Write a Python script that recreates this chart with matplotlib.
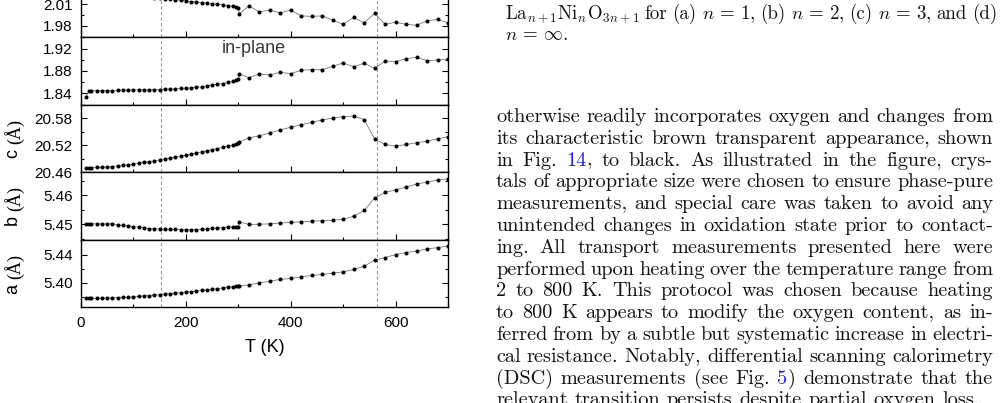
import re
import matplotlib
matplotlib.use("Agg")
import matplotlib.pyplot as plt
from matplotlib.ticker import FixedLocator, FormatStrFormatter

plt.rcParams['font.family'] = 'Liberation Sans'
plt.rcParams['mathtext.fontset'] = 'cm'

W, H = 1001, 403

# temperature grid (K)
T = [10, 15, 20, 30, 40, 50, 60, 70, 80, 90, 100, 110, 120, 130, 140, 150,
     160, 170, 180, 190, 200, 210, 220, 230, 240, 250, 260, 270, 280, 290,
     295, 300, 302, 320, 340, 360, 380, 400, 420, 440, 460, 480, 500, 520,
     540, 560, 580, 600, 620, 640, 660, 680, 700]

# top panel (cut off in the page)
top_vals = [2.031, 2.030, 2.030, 2.029, 2.028, 2.027, 2.026, 2.025, 2.024, 2.023,
            2.022, 2.021, 2.020, 2.020, 2.019, 2.019, 2.018, 2.017, 2.0165, 2.0158,
            2.0147, 2.0137, 2.0136, 2.0123, 2.0114, 2.0112, 2.0104, 2.0095, 2.008, 2.0076,
            2.0058, 2.0044, 1.9964, 2.008, 1.9996, 2.002, 1.9982, 2.002, 1.994, 1.9932,
            1.994, 1.988, 1.982, 1.9918, 1.9842, 1.9974, 1.982, 1.9852, 1.982, 1.981,
            1.987, 1.989, 1.9842]

inplane_vals = [1.834, 1.8447, 1.8447, 1.8448, 1.8449, 1.845, 1.845, 1.8452, 1.8455, 1.8458,
                1.8462, 1.846, 1.8462, 1.8465, 1.8463, 1.8468, 1.8472, 1.8475, 1.8475, 1.8487,
                1.849, 1.8495, 1.851, 1.8515, 1.853, 1.855, 1.856, 1.8575, 1.8595, 1.8615,
                1.8635, 1.865, 1.8746, 1.868, 1.8746, 1.8728, 1.8777, 1.8752, 1.8812, 1.8824,
                1.8824, 1.8884, 1.8943, 1.8877, 1.8938, 1.8848, 1.8979, 1.8967, 1.902, 1.9045,
                1.8985, 1.8997, 1.9015]

c_vals = [20.470, 20.470, 20.4701, 20.4703, 20.4708, 20.4715, 20.4724, 20.4735, 20.4748, 20.4763,
          20.4779, 20.4796, 20.4814, 20.4833, 20.4852, 20.4870, 20.4890, 20.4911, 20.4932, 20.4953,
          20.4975, 20.4998, 20.5022, 20.5046, 20.5071, 20.5096, 20.5122, 20.5148, 20.5176, 20.5205,
          20.5225, 20.5250, 20.5262, 20.536, 20.5404, 20.547, 20.5536, 20.5594, 20.5653, 20.5703,
          20.5756, 20.580, 20.5829, 20.5844, 20.5763, 20.5338, 20.5213, 20.5176, 20.5213, 20.525,
          20.5286, 20.5338, 20.5382]

b_vals = [5.4502, 5.4503, 5.4503, 5.4502, 5.4502, 5.4502, 5.4503, 5.4498, 5.4497, 5.4495,
          5.4493, 5.4491, 5.4488, 5.4486, 5.4485, 5.4485, 5.4484, 5.4483, 5.4483, 5.4482,
          5.4482, 5.4482, 5.4482, 5.4483, 5.4484, 5.4487, 5.4488, 5.4489, 5.4491, 5.4492,
          5.4492, 5.4493, 5.4509, 5.4500, 5.4501, 5.4502, 5.4505, 5.4507, 5.4509, 5.4511,
          5.4513, 5.4514, 5.4518, 5.4528, 5.4548, 5.4590, 5.4610, 5.4618, 5.4628, 5.4638,
          5.4645, 5.4652, 5.4656]

a_vals = [5.3780, 5.3780, 5.3780, 5.3781, 5.3782, 5.3784, 5.3787, 5.3790, 5.3794, 5.3798,
          5.3803, 5.3808, 5.3814, 5.3820, 5.3827, 5.3834, 5.3841, 5.3848, 5.3855, 5.3862,
          5.3869, 5.3876, 5.3884, 5.3892, 5.3900, 5.3908, 5.3917, 5.3926, 5.3935, 5.3944,
          5.3949, 5.3955, 5.3960, 5.3968, 5.4000, 5.4024, 5.4048, 5.4062, 5.4085, 5.4104,
          5.4118, 5.4137, 5.4155, 5.4189, 5.4235, 5.4320, 5.4358, 5.4400, 5.4428, 5.4450,
          5.4479, 5.4498, 5.4521]

T_marks = [153, 565]

x_major = [0, 200, 400, 600]
x_minor = [100, 300, 500, 700]

# (values, ylim, major ticks, minor ticks, ylabel letter)
panels = [
    (top_vals, (1.9646, 2.059), [1.98, 2.01, 2.04], [1.965, 1.995, 2.025, 2.055], None),
    (inplane_vals, (1.82, 1.941), [1.84, 1.88, 1.92], [1.82, 1.86, 1.90, 1.94], None),
    (c_vals, (20.46, 20.61), [20.46, 20.52, 20.58], [20.49, 20.55, 20.61], 'c'),
    (b_vals, (5.4448, 5.4679), [5.45, 5.46], [5.445, 5.455, 5.465], 'b'),
    (a_vals, (5.3654, 5.461), [5.40, 5.44], [5.38, 5.42, 5.46], 'a'),
]

fig = plt.figure(figsize=(W / 100, H / 100), dpi=100)

left_px, right_px = 81, 448
bottom_px, panel_h = 307.3, 67.6
axes = []
for i, (vals, ylim, majors, minors, lab) in enumerate(panels):
    k = len(panels) - 1 - i
    y0 = 1 - (bottom_px - k * panel_h) / H
    ax = fig.add_axes([left_px / W, y0, (right_px - left_px) / W, panel_h / H])
    for Tm in T_marks:
        ax.axvline(Tm, color='#999999', lw=0.8, ls=(0, (3, 2)), zorder=1)
    ax.plot(T, vals, '-', color='#777777', lw=0.6, marker='o', ms=1.9,
            mfc='black', mec='black', zorder=3)
    ax.set_xlim(0, 700)
    ax.set_ylim(*ylim)
    ax.yaxis.set_major_locator(FixedLocator(majors))
    ax.yaxis.set_minor_locator(FixedLocator(minors))
    ax.yaxis.set_major_formatter(FormatStrFormatter('%.2f'))
    ax.xaxis.set_major_locator(FixedLocator(x_major))
    ax.xaxis.set_minor_locator(FixedLocator(x_minor))
    ax.tick_params(which='both', direction='in', left=True, right=True,
                   top=False, bottom=True, width=0.8, labelsize=11, pad=6)
    ax.tick_params(which='major', length=4.5)
    ax.tick_params(which='minor', length=2.5)
    for s in ax.spines.values():
        s.set_linewidth(1.0)
    if i < len(panels) - 1:
        ax.tick_params(labelbottom=False)
    if lab:
        ax.text(-0.183, 0.42, lab + ' ', transform=ax.transAxes, rotation=90,
                rotation_mode='anchor', ha='right', va='center', fontsize=13)
        ax.text(-0.183, 0.42, '(Å)', transform=ax.transAxes, rotation=90,
                rotation_mode='anchor', ha='left', va='center', fontsize=13,
                family='Liberation Serif')
    axes.append(ax)

axes[1].text(0.471, 0.827, 'in-plane', transform=axes[1].transAxes,
             ha='center', va='center', fontsize=13, color='#3a3a3a')
axes[-1].set_xlabel('T (K)', fontsize=13, labelpad=7)

# ---- page text on the right ----
caption_lines = [
    "La$_{n+1}$Ni$_n$O$_{3n+1}$ for (a) $n\\,=\\,1$, (b) $n\\,=\\,2$, (c) $n\\,=\\,3$, and (d)",
    "$n\\,=\\,\\infty$.",
]
body_lines = [
    "otherwise readily incorporates oxygen and changes from",
    "its characteristic brown transparent appearance, shown",
    "in Fig. [14], to black.  As illustrated in the figure, crys-",
    "tals of appropriate size were chosen to ensure phase-pure",
    "measurements, and special care was taken to avoid any",
    "unintended changes in oxidation state prior to contact-",
    "ing.  All transport measurements presented here were",
    "performed upon heating over the temperature range from",
    "2 to 800 K. This protocol was chosen because heating",
    "to 800 K appears to modify the oxygen content, as in-",
    "ferred from by a subtle but systematic increase in electri-",
    "cal resistance. Notably, differential scanning calorimetry",
    "(DSC) measurements (see Fig. [5]) demonstrate that the",
    "relevant transition persists despite partial oxygen loss.",
]

BODY_FS = 14.6
CAP_FS = 13.6
LINK = '#1a1aff'
renderer = fig.canvas.get_renderer()


def put_line(line, y, x0, x1, fs, justify=True):
    words = line.split()
    made = []
    for w in words:
        segs = []
        for part in re.split(r'(\[[^\]]*\])', w):
            if not part:
                continue
            col = '#111111'
            if part.startswith('['):
                part, col = part[1:-1], LINK
            t = fig.text(0, 0, part, fontfamily='cmr10', fontsize=fs,
                         color=col, ha='left', va='baseline')
            segs.append((t, t.get_window_extent(renderer).width))
        made.append(segs)
    widths = [sum(wd for _, wd in segs) for segs in made]
    if justify and len(made) > 1:
        gap = (x1 - x0 - sum(widths)) / (len(made) - 1)
    else:
        gap = fs * 100 / 72 * 0.333
    x = x0
    for segs, wd in zip(made, widths):
        for t, sw in segs:
            t.set_position((x / W, 1 - y / H))
            x += sw
        x += gap


cap_y = [19, 40.5]
put_line(caption_lines[0], cap_y[0], 505, 997, CAP_FS)
put_line(caption_lines[1], cap_y[1], 505, 997, CAP_FS, justify=False)

y = 122
for j, line in enumerate(body_lines):
    put_line(line, y, 496, 993, BODY_FS, justify=(j < len(body_lines) - 1))
    y += 21.8

fig.savefig('out.png', dpi=100)
